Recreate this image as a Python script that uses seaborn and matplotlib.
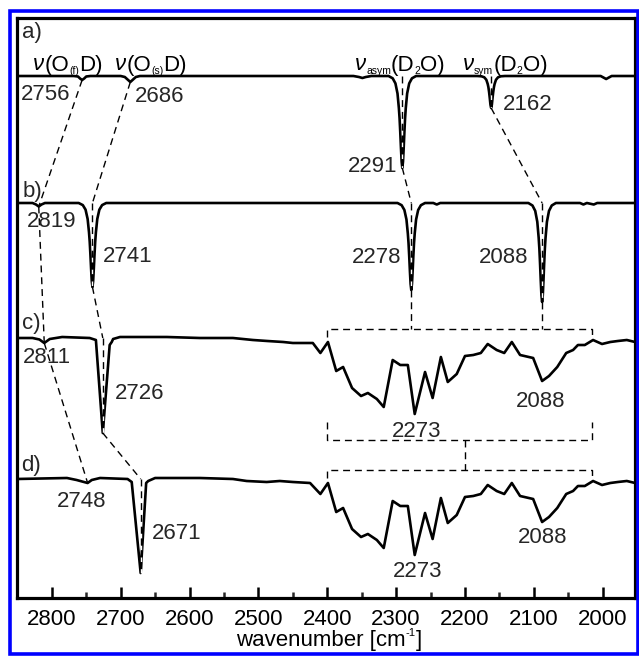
import matplotlib
matplotlib.use("Agg")
import matplotlib.pyplot as plt
import pandas as pd
import seaborn as sns
from matplotlib.patches import Rectangle
from matplotlib.ticker import MultipleLocator

# ---------------------------------------------------------------------------
# IR spectra: wavenumber [cm-1] and relative signal (arb. units, dips negative)
# ---------------------------------------------------------------------------
# a) computed spectrum
wn_a = [2851, 2768, 2762, 2759, 2756, 2753, 2750, 2744,
        2700, 2694, 2690, 2686, 2682, 2678, 2672,
        2362, 2354, 2349, 2344, 2336,
        2319, 2311, 2305, 2301, 2298, 2296, 2295, 2294, 2293, 2292, 2291,
        2290, 2289, 2288, 2287, 2286, 2284, 2281, 2277, 2271, 2263,
        2190, 2182, 2176, 2172, 2169, 2167, 2166, 2165, 2164, 2163, 2162,
        2161, 2160, 2159, 2158, 2157, 2155, 2152, 2148, 2142, 2134,
        2003, 1999, 1995, 1991, 1987, 1953]
sig_a = [0, 0, -0.5, -2.5, -4, -2.5, -0.5, 0,
         0, -1, -3.5, -6, -3.5, -1, 0,
         0, -1, -2, -1, 0,
         0, 0, -2.3, -7.4, -17.5, -32.2, -42.3, -56.1, -71.8, -85.6, -92,
         -85.6, -71.8, -56.1, -42.3, -32.2, -17.5, -7.4, -2.3, 0, 0,
         0, 0, -0.3, -1.3, -3.8, -8, -11.2, -16, -22.1, -28.8, -32,
         -28.8, -22.1, -16, -11.2, -8, -3.8, -1.3, -0.3, 0, 0,
         0, -1.5, -3, -1.5, 0, 0]

# b) computed spectrum
wn_b = [2851, 2828, 2823, 2819, 2815, 2810,
        2769, 2761, 2755, 2751, 2748, 2746, 2745, 2744, 2743, 2742, 2741,
        2740, 2739, 2738, 2737, 2736, 2734, 2731, 2727, 2721, 2713,
        2306, 2298, 2292, 2288, 2285, 2283, 2282, 2281, 2280, 2279, 2278,
        2277, 2276, 2275, 2274, 2273, 2271, 2268, 2264, 2258, 2250,
        2246, 2241, 2236,
        2116, 2108, 2102, 2098, 2095, 2093, 2092, 2091, 2090, 2089, 2088,
        2087, 2086, 2085, 2084, 2083, 2081, 2078, 2074, 2068, 2060,
        2033, 2028, 2023, 2013, 2008, 1953]
sig_b = [0, 0, -1.5, -3.5, -1.5, 0,
         0, 0, -2.1, -6.7, -16, -29.4, -38.6, -51.2, -65.5, -78.1, -84,
         -78.1, -65.5, -51.2, -38.6, -29.4, -16, -6.7, -2.1, 0, 0,
         0, 0, -2.2, -7, -16.5, -30.5, -40, -53.1, -67.9, -80.9, -87,
         -80.9, -67.9, -53.1, -40, -30.5, -16.5, -7, -2.2, 0, 0,
         0, -1.5, 0,
         0, 0, -2.5, -7.9, -18.8, -34.7, -45.5, -60.4, -77.2, -92.1, -99,
         -92.1, -77.2, -60.4, -45.5, -34.7, -18.8, -7.9, -2.5, 0, 0,
         0, -1.5, 0, -1.5, 0, 0]

# c), d) measured spectra: O-D stretch region
wn_c = [2851, 2828, 2818, 2811, 2803, 2785, 2745, 2736, 2726, 2716, 2713,
        2711, 2701, 2682, 2633, 2585, 2537, 2508, 2487, 2464, 2450, 2421]
sig_c = [0, 0, -1.5, -5, -1, 1, 0, -2, -95, -7, -4,
         -1, 1, 1, 1, 0, 0, -2, -3, -4, -5, -5]
wn_d = [2851, 2778, 2764, 2748, 2742, 2730, 2690, 2684, 2671, 2663, 2660,
        2650, 2585, 2537, 2517, 2488, 2469, 2450, 2425]
sig_d = [0, 1, -1, -4, -1, 1, 0, -3, -94, -4, -2,
         1, 1, 0, -2, -3, -2, -3, -4]

# broad D2O band shared by the measured spectra c) and d)
wn_band = [2410, 2399, 2387, 2377, 2364, 2351, 2341, 2328, 2318, 2305,
           2294, 2283, 2273, 2258, 2247, 2235, 2225, 2212, 2200, 2188,
           2177, 2167, 2154, 2143, 2132, 2120, 2101, 2088, 2078, 2066,
           2053, 2043, 2036, 2026, 2014, 2001, 1989, 1978, 1965, 1953]
sig_band = [-15, -4, -33, -29, -50, -58, -55, -61, -69, -22,
            -27, -27, -76, -34, -60, -19, -44, -36, -18, -17,
            -15, -6, -12, -15, -4, -17, -20, -43, -38, -29,
            -15, -12, -7, -7, -2, -6, -4, -3, -2, -4]

# labelled band positions per spectrum
peaks = {"a": [2756, 2686, 2291, 2162],
         "b": [2819, 2741, 2278, 2088],
         "c": [2811, 2726, 2273, 2088],
         "d": [2748, 2671, 2273, 2088]}

tick_values = [2800, 2700, 2600, 2500, 2400, 2300, 2200, 2100, 2000]

# ---------------------------------------------------------------------------
# layout
# ---------------------------------------------------------------------------
W, H = 639, 656
offsets = {"a": 522, "b": 395, "c": 260, "d": 119}

traces = {
    "a": (wn_a, sig_a),
    "b": (wn_b, sig_b),
    "c": (wn_c + wn_band, sig_c + sig_band),
    "d": (wn_d + wn_band, sig_d + sig_band),
}

rows = []
for key, (w, s) in traces.items():
    for x, v in zip(w, s):
        rows.append({"spectrum": key, "wavenumber": x, "signal": v + offsets[key]})
df = pd.DataFrame(rows)

sns.set_theme(style="white")
plt.rcParams["font.family"] = ["Liberation Sans", "DejaVu Sans"]

FS = 16
SUB = 7.5

fig = plt.figure(figsize=(W / 100, H / 100), dpi=100)
ax = fig.add_axes([16.5 / W, (H - 598) / H, (635 - 16.5) / W, (598 - 17.5) / H])

sns.lineplot(data=df, x="wavenumber", y="signal", units="spectrum",
             estimator=None, sort=False, color="black", lw=1.9, ax=ax,
             zorder=2)

ax.set_xlim(2851.3, 1953.1)
ax.set_ylim(0, 580.5)
ax.set_yticks([])
ax.set_ylabel("")
ax.set_xlabel("")
ax.set_xticks(tick_values)
ax.set_xticklabels([str(t) for t in tick_values])
ax.xaxis.set_minor_locator(MultipleLocator(50))
ax.tick_params(axis="x", which="major", direction="in", length=8, width=1.8,
               labelsize=FS, pad=8, colors="black", bottom=True, top=False)
ax.tick_params(axis="x", which="minor", direction="in", length=4, width=1.8,
               bottom=True, top=False)
for sp in ax.spines.values():
    sp.set_visible(True)
    sp.set_color("black")
    sp.set_linewidth(2.3)

renderer = fig.canvas.get_renderer()


def rich_text(x_px, y_px, parts, ha="left"):
    """Write text pieces side by side on one baseline (figure pixels, top-left
    origin); each piece is (text, size, baseline shift in px, style)."""
    items = []
    for s, size, dy, style in parts:
        t = fig.text(0, 0, s, fontsize=size, fontstyle=style,
                     ha="left", va="baseline", color="black")
        items.append((t, t.get_window_extent(renderer=renderer).width, dy))
    total = sum(w for _, w, _ in items)
    x = x_px - (total / 2 if ha == "center" else 0)
    for t, w, dy in items:
        t.set_position((x / W, 1 - (y_px + dy) / H))
        x += w


def level(key, wn, where):
    """y of a spectrum at a band: its baseline ('base') or band minimum ('tip')."""
    if where == "base":
        return offsets[key]
    w, s = traces[key]
    return offsets[key] + s[w.index(wn)]


DASH = dict(color="black", lw=1.0, dashes=(5, 3.5), zorder=3)


def chain(points):
    xy = [(wn, level(k, wn, where)) if k else (wn, where) for k, wn, where in points]
    for (x0, y0), (x1, y1) in zip(xy[:-1], xy[1:]):
        gap = "white" if x0 == x1 else None
        ax.plot([x0, x1], [y0, y1], gapcolor=gap, **DASH)


# bracket around the broad D2O band in c) and d)
band_lo, band_hi = 2400, 2015
c_top, c_bot, d_top = offsets["c"] + 9, offsets["c"] - 102, offsets["d"] + 9

chain([("a", 2756, "tip"), ("b", 2819, "tip"), ("c", 2811, "tip"), ("d", 2748, "tip")])
chain([("a", 2686, "tip"), ("b", 2741, "base"), ("b", 2741, "tip"),
       ("c", 2726, "base"), ("c", 2726, "tip"),
       ("d", 2671, "base"), ("d", 2671, "tip")])
chain([("a", 2291, "base"), ("a", 2291, "tip"), ("b", 2278, "base"),
       ("b", 2278, "tip"), (None, 2278, c_top)])
chain([("a", 2162, "base"), ("a", 2162, "tip"), ("b", 2088, "base"),
       ("b", 2088, "tip"), (None, 2088, c_top)])

ax.plot([band_lo, band_lo, band_hi, band_hi], [c_top - 8, c_top, c_top, c_top - 8], **DASH)
ax.plot([band_lo, band_lo, band_hi, band_hi], [c_bot + 18, c_bot, c_bot, c_bot + 18], **DASH)
ax.plot([band_lo, band_lo, band_hi, band_hi], [d_top - 8, d_top, d_top, d_top - 8], **DASH)
ax.plot([2200, 2200], [c_bot, d_top], **DASH)

# panel letters
for key, (x, y) in {"a": (2843.7, 560), "b": (2843, 401),
                    "c": (2843, 269), "d": (2844.5, 127)}.items():
    ax.text(x, y, f"{key})", fontsize=FS, ha="left", va="baseline")

# mode assignments above spectrum a)
N = "normal"
modes = [
    (33, [("ν", FS, 0, "italic"), ("(O", FS, 0, N), ("(f)", SUB, 3, N), ("D)", FS, 0, N)]),
    (115, [("ν", FS, 0, "italic"), ("(O", FS, 0, N), ("(s)", SUB, 3, N), ("D)", FS, 0, N)]),
    (355, [("ν", FS, 0, "italic"), ("asym", SUB, 3, N), ("(D", FS, 0, N),
           ("2", SUB, 3, N), ("O)", FS, 0, N)]),
    (463, [("ν", FS, 0, "italic"), ("sym", SUB, 3, N), ("(D", FS, 0, N),
           ("2", SUB, 3, N), ("O)", FS, 0, N)]),
]
for x_px, parts in modes:
    rich_text(x_px, 70.5, parts)

# axis title
rich_text(329, 646, [("wavenumber [cm", FS, 0, N), ("-1", SUB + 0.5, -10, N),
                     ("]", FS, 0, N)], ha="center")

# band position labels
label_pos = {
    "a": [(2845, 498), (2679.4, 496), (2370, 426), (2145, 488)],
    "b": [(2836, 371), (2726, 336), (2364, 335), (2180, 335)],
    "c": [(2842, 235), (2708.5, 199), (2306, 161), (2126, 191)],
    "d": [(2793, 91), (2655, 59), (2305, 21), (2123, 55)],
}
for key, plist in peaks.items():
    for p, (x, y) in zip(plist, label_pos[key]):
        ax.text(x, y, str(p), fontsize=FS, ha="left", va="baseline")

# blue outer frame
fig.add_artist(Rectangle((9.5 / W, 1 - 653.5 / H), 628 / W, 642.5 / H,
                         transform=fig.transFigure, fill=False,
                         edgecolor="#0000ff", lw=2.6, clip_on=False))

fig.savefig("out.png", dpi=100)
